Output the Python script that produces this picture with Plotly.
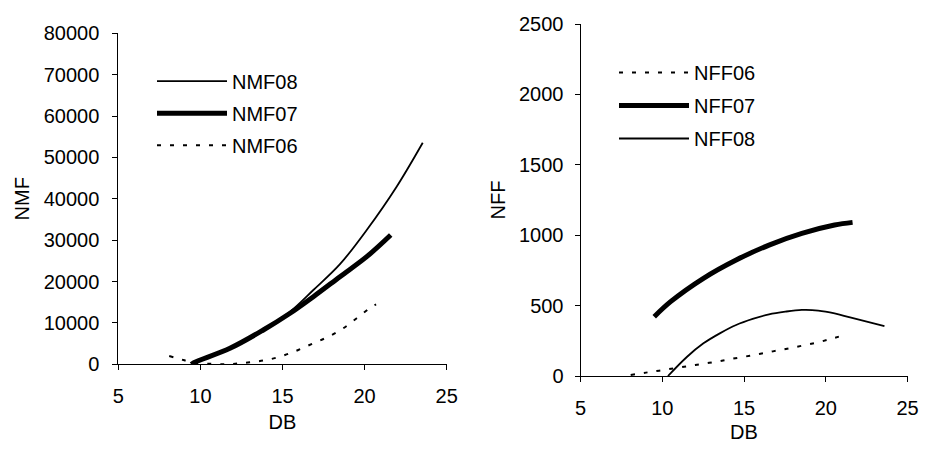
import plotly.graph_objects as go

# ---- Left panel: NMF vs DB ----
nmf08_db = [9.45, 9.6, 11.8, 13.83, 15.46, 16.88, 18.5, 20.13, 21.95, 23.54]
nmf08_val = [0, 400, 3870, 8290, 12710, 17960, 24200, 32460, 42930, 53560]

nmf07_db = [9.45, 9.6, 11.8, 13.83, 15.46, 16.88, 18.5, 20.13, 21.59]
nmf07_val = [0, 400, 3870, 8290, 12330, 16340, 21170, 26010, 31250]

nmf06_db = [8.1, 8.96, 9.6, 10.69, 11.6, 12.41, 13.33, 14.24, 15.15, 15.96, 16.88, 17.79, 18.7, 19.52, 20.43, 20.7]
nmf06_val = [2000, 1040, 300, 100, 0, 240, 630, 1210, 2250, 3460, 5080, 6670, 8700, 11120, 13920, 14500]

# ---- Right panel: NFF vs DB ----
nff06_db = [8.07, 9.0, 9.81, 10.72, 11.62, 12.42, 13.32, 14.12, 15.02, 15.93, 16.77, 17.64, 18.54, 19.44, 20.24, 20.94]
nff06_val = [7, 24, 38, 55, 71, 85, 102, 119, 137, 156, 175, 194, 215, 237, 261, 284]

nff07_db = [9.51, 10.51, 12.52, 14.52, 16.53, 18.54, 20.54, 21.64]
nff07_val = [421, 528, 694, 824, 930, 1013, 1072, 1091]

nff08_db = [10.35, 11.52, 12.52, 13.52, 14.52, 15.53, 16.53, 17.53, 18.54, 19.54, 20.54, 21.55, 23.59]
nff08_val = [0, 137, 232, 303, 362, 405, 438, 457, 469, 465, 445, 414, 355]

x_ticks = [5, 10, 15, 20, 25]
nmf_ticks = [0, 10000, 20000, 30000, 40000, 50000, 60000, 70000, 80000]
nff_ticks = [0, 500, 1000, 1500, 2000, 2500]

FONT = "Arial, Liberation Sans, sans-serif"
THIN, THICK, DASHW = 1.8, 5, 2
DASH = "4px,9px"

fig = go.Figure()

# left legend order: NMF08, NMF07, NMF06
fig.add_trace(go.Scatter(x=nmf08_db, y=nmf08_val, name="NMF08", mode="lines",
                         line=dict(color="black", width=THIN, shape="spline"),
                         xaxis="x", yaxis="y", legend="legend", legendgroup="a1"))
fig.add_trace(go.Scatter(x=nmf07_db, y=nmf07_val, name="NMF07", mode="lines",
                         line=dict(color="black", width=THICK, shape="spline"),
                         xaxis="x", yaxis="y", legend="legend", legendgroup="a2"))
fig.add_trace(go.Scatter(x=nmf06_db, y=nmf06_val, name="NMF06", mode="lines",
                         line=dict(color="black", width=DASHW, dash=DASH, shape="spline"),
                         xaxis="x", yaxis="y", legend="legend", legendgroup="a3"))

# right legend order: NFF06, NFF07, NFF08
fig.add_trace(go.Scatter(x=nff06_db, y=nff06_val, name="NFF06", mode="lines",
                         line=dict(color="black", width=DASHW, dash=DASH, shape="spline"),
                         xaxis="x2", yaxis="y2", legend="legend2", legendgroup="b1"))
fig.add_trace(go.Scatter(x=nff07_db, y=nff07_val, name="NFF07", mode="lines",
                         line=dict(color="black", width=THICK, shape="spline"),
                         xaxis="x2", yaxis="y2", legend="legend2", legendgroup="b2"))
fig.add_trace(go.Scatter(x=nff08_db, y=nff08_val, name="NFF08", mode="lines",
                         line=dict(color="black", width=THIN, shape="spline"),
                         xaxis="x2", yaxis="y2", legend="legend2", legendgroup="b3"))

axis_common = dict(showgrid=False, zeroline=False, showline=True, linecolor="black",
                   linewidth=1, ticks="outside", ticklen=5, tickcolor="black",
                   automargin=False, tickformat="d",
                   tickfont=dict(family=FONT, size=20, color="black"))

# page body has an 8px margin: the figure starts 8px in from the window corner,
# and is sized so the page does not overflow the 927x451 window.
OFF = 8
W, H = 911, 435


def xdom(left_w, right_w):
    return [(left_w - OFF) / W, (right_w - OFF) / W]


def ydom(top_w, bottom_w):
    return [(H - (bottom_w - OFF)) / H, (H - (top_w - OFF)) / H]


fig.update_layout(
    width=W, height=H,
    margin=dict(l=0, r=0, t=0, b=0),
    paper_bgcolor="white", plot_bgcolor="white",
    font=dict(family=FONT, size=20, color="black"),
    xaxis=dict(domain=xdom(118.3, 446.7), range=[5, 25], tickvals=x_ticks,
               anchor="y", ticklabelstandoff=9,
               title=dict(text="DB", font=dict(size=20), standoff=8),
               **axis_common),
    yaxis=dict(domain=ydom(33.3, 364.3), range=[0, 80000], tickvals=nmf_ticks,
               anchor="x", ticklabelstandoff=9,
               title=dict(text="NMF", font=dict(size=20), standoff=8),
               **axis_common),
    xaxis2=dict(domain=xdom(580.5, 907.5), range=[5, 25], tickvals=x_ticks,
                anchor="y2", ticklabelstandoff=9, ticklabeloverflow="allow",
                title=dict(text="DB", font=dict(size=20), standoff=26),
                **axis_common),
    yaxis2=dict(domain=ydom(24, 376), range=[0, 2500], tickvals=nff_ticks,
                anchor="x2", ticklabelstandoff=7,
                title=dict(text="NFF", font=dict(size=20), standoff=8),
                **axis_common),
    showlegend=True,
    legend=dict(x=(152 - OFF) / W, y=1 - (61.7 - OFF) / H, xanchor="left", yanchor="top",
                bgcolor="rgba(0,0,0,0)", borderwidth=0, itemwidth=70,
                tracegroupgap=3, font=dict(family=FONT, size=20, color="black")),
    legend2=dict(x=(614 - OFF) / W, y=1 - (53 - OFF) / H, xanchor="left", yanchor="top",
                 bgcolor="rgba(0,0,0,0)", borderwidth=0, itemwidth=70,
                 tracegroupgap=4, font=dict(family=FONT, size=20, color="black")),
)

fig.write_html("out.html")
